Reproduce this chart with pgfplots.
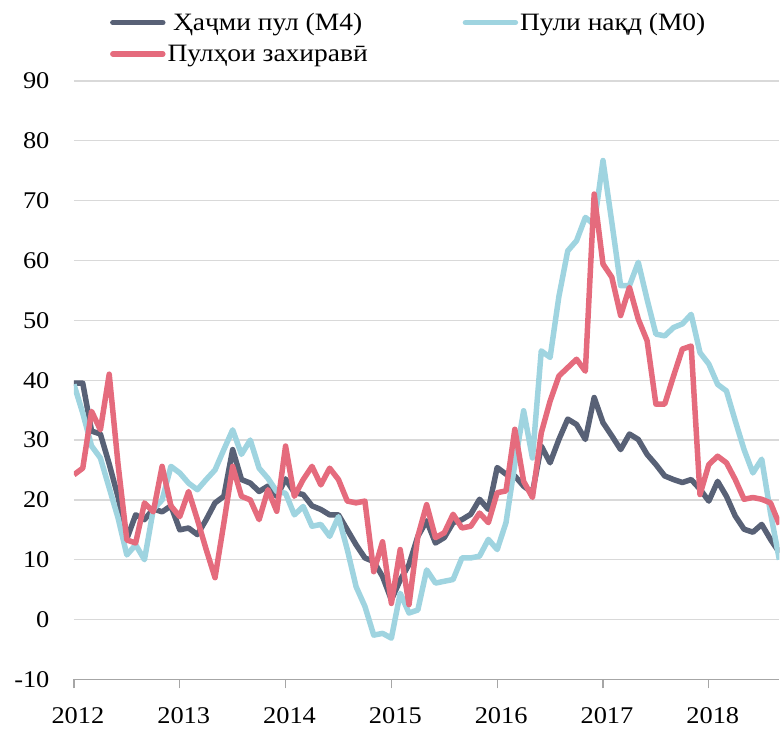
\documentclass[border=0pt]{standalone}
\usepackage{fontspec}
\setmainfont{Liberation Serif}[FakeStretch=1.1]
\usepackage{pgfplots}
\pgfplotsset{compat=1.18}
\usepackage{pgfplotstable}
\definecolor{cM4}{RGB}{88,97,118}
\definecolor{cM0}{RGB}{159,212,224}
\definecolor{cRes}{RGB}{229,107,125}
\definecolor{gridc}{RGB}{217,217,217}
\definecolor{axc}{RGB}{166,166,166}

\pgfplotstableread{
i m4 m0 res
0 39.5 39.3 24.2
1 39.5 34.5 25.3
2 31.5 29.0 34.8
3 31.0 27.0 31.7
4 26.0 22.0 41.0
5 20.5 17.0 26.0
6 13.5 10.8 13.3
7 17.5 12.5 12.8
8 16.7 10.0 19.5
9 18.5 18.4 18.0
10 18.0 20.0 25.6
11 19.0 25.6 19.0
12 15.0 24.5 17.2
13 15.3 22.8 21.4
14 14.2 21.7 16.7
15 16.7 23.4 11.7
16 19.5 25.0 7.0
17 20.6 28.4 16.1
18 28.4 31.7 25.6
19 23.4 27.6 20.6
20 22.8 30.0 20.0
21 21.4 25.3 16.7
22 22.3 23.6 21.7
23 20.6 21.4 18.1
24 23.5 21.1 29.0
25 21.2 17.5 20.6
26 20.9 18.9 23.4
27 19.0 15.6 25.6
28 18.4 15.9 22.5
29 17.5 13.9 25.3
30 17.5 17.2 23.4
31 15.0 11.7 19.8
32 12.5 5.5 19.5
33 10.3 2.2 19.8
34 9.7 -2.6 8.0
35 7.2 -2.3 13.0
36 3.3 -3.1 2.7
37 6.6 4.4 11.7
38 9.2 1.1 2.5
39 13.9 1.6 13.9
40 16.5 8.3 19.2
41 12.8 6.1 13.7
42 13.7 6.4 14.5
43 16.2 6.7 17.6
44 16.7 10.3 15.3
45 17.6 10.3 15.6
46 20.1 10.6 17.8
47 18.4 13.4 16.2
48 25.4 11.7 21.2
49 24.3 16.2 21.5
50 24.0 26.0 31.8
51 22.3 34.9 23.1
52 21.2 27.0 20.4
53 29.0 44.9 31.2
54 26.2 43.8 36.5
55 30.1 54.0 40.7
56 33.5 61.6 42.1
57 32.6 63.3 43.5
58 30.1 67.2 41.5
59 37.1 66.0 71.1
60 32.9 76.7 59.4
61 30.7 66.4 57.2
62 28.4 55.8 50.8
63 31.0 55.8 55.5
64 30.1 59.7 50.2
65 27.6 53.5 46.6
66 25.9 47.7 36.0
67 24.0 47.4 36.0
68 23.4 48.8 40.7
69 22.9 49.4 45.2
70 23.4 51.0 45.7
71 21.8 44.6 20.9
72 19.8 42.7 25.9
73 23.1 39.3 27.3
74 20.6 38.2 26.2
75 17.3 33.2 23.4
76 15.1 28.4 20.1
77 14.6 24.5 20.4
78 15.9 26.8 20.1
79 13.4 17.8 19.5
80 11.2 10.0 15.9
}\data

\begin{document}
\begin{tikzpicture}
\begin{axis}[
  scale only axis,
  width=706bp, height=599bp,
  xmin=0, xmax=80, ymin=-10, ymax=90,
  xtick={0,12,24,36,48,60,72},
  xticklabels={2012,2013,2014,2015,2016,2017,2018},
  ytick={-10,0,10,20,30,40,50,60,70,80,90},
  ymajorgrids,
  grid style={gridc, line width=1.3bp},
  axis x line*=bottom,
  axis y line*=left,
  y axis line style={draw=none},
  x axis line style={axc, line width=1.3bp, -},
  y tick style={draw=none},
  x tick style={axc, line width=1.3bp},
  tick align=outside,
  major tick length=9bp,
  /pgf/number format/assume math mode=true,
  tick label style={font=\fontsize{24bp}{28bp}\selectfont},
  yticklabel style={xshift=-12bp},
  xticklabel style={xshift=4bp, yshift=-16bp},
  legend columns=2,
  legend style={draw=none, fill=none, at={(33bp,671bp)}, anchor=north west,
    font=\fontsize{25bp}{29bp}\selectfont,
    /tikz/every even column/.append style={column sep=93bp},
    row sep=9bp},
  legend image code/.code={\draw[#1, line cap=round] (0bp,0bp) -- (50bp,0bp);},
  every axis plot/.append style={line width=5.5bp, line join=round, no markers},
]
\addplot[cM4] table[x=i, y=m4] {\data};
\addlegendentry{Ҳаҷми пул (М4)}
\addplot[cM0] table[x=i, y=m0] {\data};
\addlegendentry{Пули нақд (М0)}
\addplot[cRes] table[x=i, y=res] {\data};
\addlegendentry{Пулҳои захиравӣ}
\end{axis}
\path (-74bp,-50bp) rectangle (706bp,680bp);
\end{tikzpicture}
\end{document}
